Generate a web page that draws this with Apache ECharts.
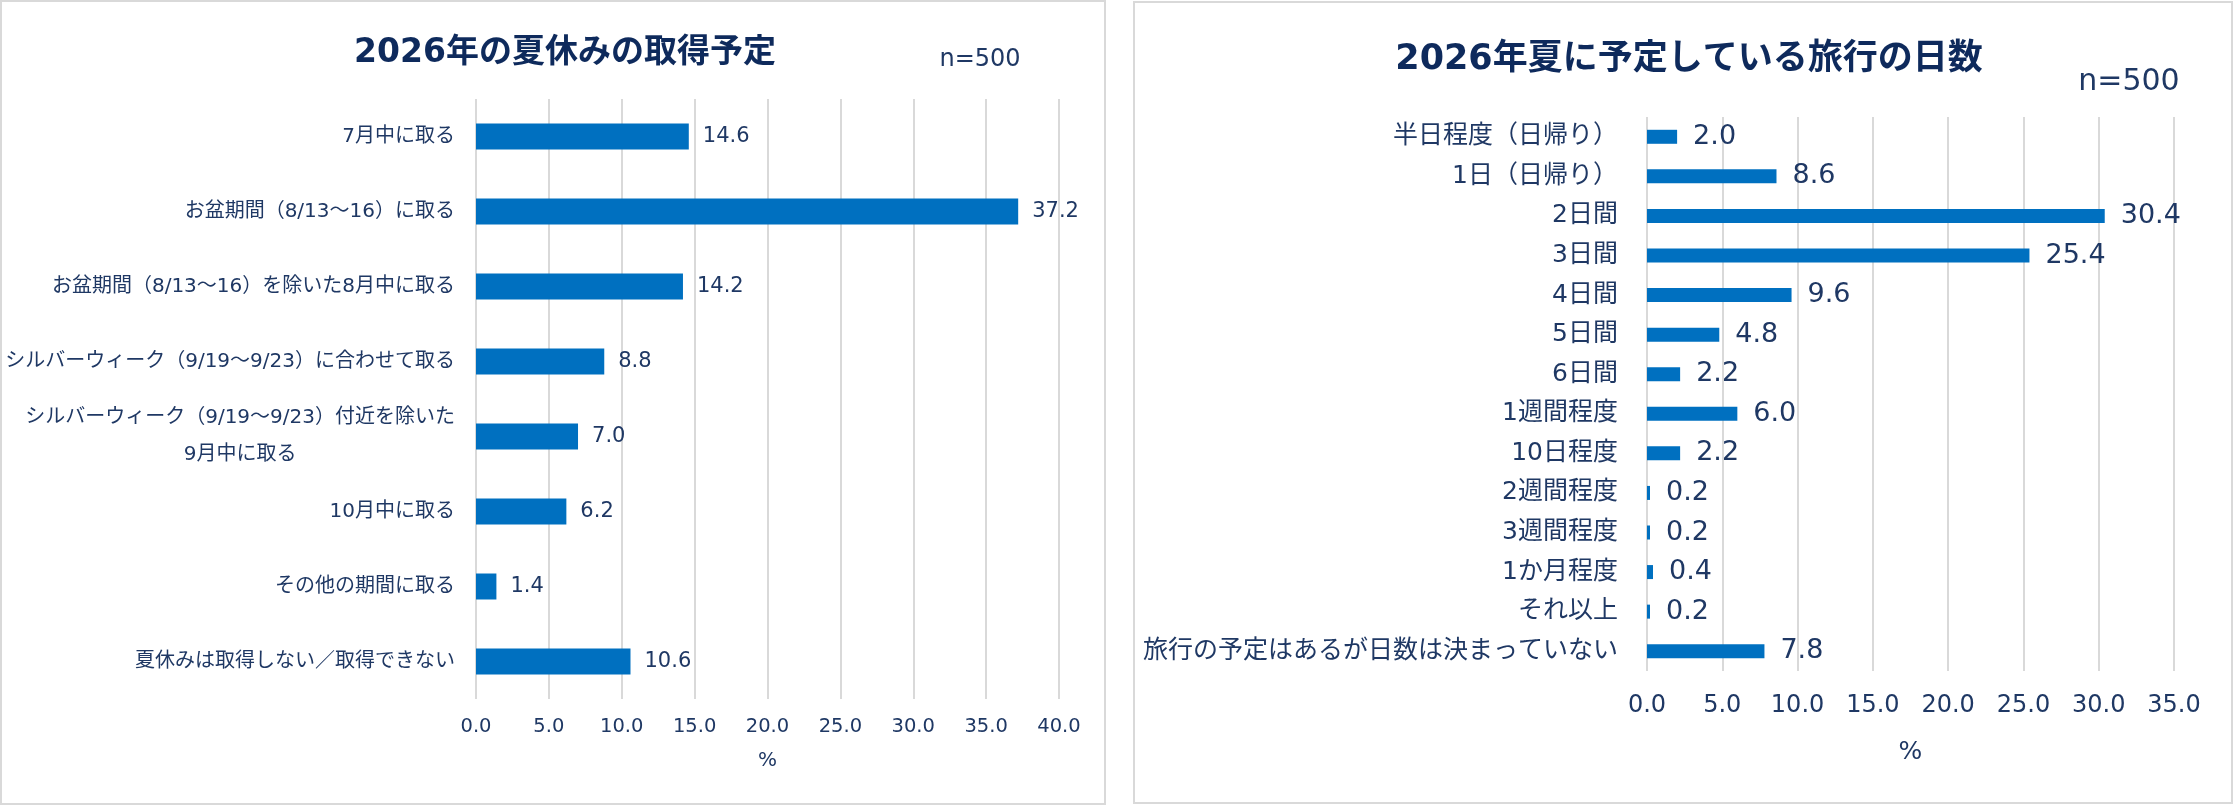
<!DOCTYPE html>
<html lang="ja">
<head>
<meta charset="utf-8">
<title>2026年 夏休み調査</title>
<script src="https://cdn.jsdelivr.net/npm/echarts@6/dist/echarts.min.js"></script>
<style>
  html, body { margin: 0; padding: 0; background: #ffffff; }
  #chart { width: 2235px; height: 806px; }
</style>
</head>
<body>
<div id="chart"></div>
<script>
// 左: 夏休みの取得予定 / 右: 旅行の日数

const holidayCategories = [
  "7月中に取る",
  "お盆期間（8/13〜16）に取る",
  "お盆期間（8/13〜16）を除いた8月中に取る",
  "シルバーウィーク（9/19〜9/23）に合わせて取る",
  "シルバーウィーク（9/19〜9/23）付近を除いた\n9月中に取る",
  "10月中に取る",
  "その他の期間に取る",
  "夏休みは取得しない／取得できない",
];
const holidayValues = [14.6, 37.2, 14.2, 8.8, 7.0, 6.2, 1.4, 10.6];

const tripCategories = [
  "半日程度（日帰り）",
  "1日（日帰り）",
  "2日間",
  "3日間",
  "4日間",
  "5日間",
  "6日間",
  "1週間程度",
  "10日程度",
  "2週間程度",
  "3週間程度",
  "1か月程度",
  "それ以上",
  "旅行の予定はあるが日数は決まっていない",
];
const tripValues = [2.0, 8.6, 30.4, 25.4, 9.6, 4.8, 2.2, 6.0, 2.2, 0.2, 0.2, 0.4, 0.2, 7.8];

const titles = ["2026年の夏休みの取得予定", "2026年夏に予定している旅行の日数"];
const sampleLabel = "n=500";
const unitLabel = "%";

const COLORS = {
  bar: "#0070c0",
  title: "#0e2a5c",
  text: "#1f3864",
  grid: "#d9d9d9",
};
const FONT = "'DejaVu Sans', 'Noto Sans CJK JP', sans-serif";

const fixed1 = (v) => Number(v).toFixed(1);

// 複数行ラベルは各行を中央揃え、ブロック全体は右寄せ
const centeredLines = (text) => text.split("\n").map((s) => `{c|${s}}`).join("\n");

const chart = echarts.init(document.getElementById("chart"), null, { renderer: "canvas" });

chart.setOption({
  backgroundColor: "#ffffff",
  animation: false,
  textStyle: { fontFamily: FONT, color: COLORS.text },
  title: [
    {
      text: titles[0], left: 560, top: 48, textAlign: "center", textVerticalAlign: "middle",
      textStyle: { fontFamily: FONT, fontSize: 33, fontWeight: "bold", color: COLORS.title },
    },
    {
      text: sampleLabel, left: 975, top: 55, textAlign: "center", textVerticalAlign: "middle",
      textStyle: { fontFamily: FONT, fontSize: 24, fontWeight: "normal", color: COLORS.text },
    },
    {
      text: titles[1], left: 1684, top: 55, textAlign: "center", textVerticalAlign: "middle",
      textStyle: { fontFamily: FONT, fontSize: 35, fontWeight: "bold", color: COLORS.title },
    },
    {
      text: sampleLabel, left: 2124, top: 77, textAlign: "center", textVerticalAlign: "middle",
      textStyle: { fontFamily: FONT, fontSize: 30, fontWeight: "normal", color: COLORS.text },
    },
  ],
  graphic: [
    { type: "rect", shape: { x: 1, y: 1, width: 1104, height: 803 }, style: { fill: "none", stroke: COLORS.grid, lineWidth: 2 } },
    { type: "rect", shape: { x: 1134, y: 2, width: 1098, height: 801 }, style: { fill: "none", stroke: COLORS.grid, lineWidth: 2 } },
  ],
  grid: [
    { left: 476, top: 99, width: 583, height: 600, outerBoundsMode: "none" },
    { left: 1647, top: 117, width: 527, height: 554, outerBoundsMode: "none" },
  ],
  xAxis: [
    {
      gridIndex: 0, type: "value", min: 0, max: 40, interval: 5,
      axisLine: { show: false }, axisTick: { show: false },
      splitLine: { show: true, lineStyle: { color: COLORS.grid, width: 2 } },
      axisLabel: { formatter: fixed1, fontSize: 19.5, color: COLORS.text, margin: 18 },
      name: unitLabel, nameLocation: "middle", nameGap: 52,
      nameTextStyle: { fontSize: 20, color: COLORS.text },
    },
    {
      gridIndex: 1, type: "value", min: 0, max: 35, interval: 5,
      axisLine: { show: false }, axisTick: { show: false },
      splitLine: { show: true, lineStyle: { color: COLORS.grid, width: 2 } },
      axisLabel: { formatter: fixed1, fontSize: 24, color: COLORS.text, margin: 23 },
      name: unitLabel, nameLocation: "middle", nameGap: 69,
      nameTextStyle: { fontSize: 25, color: COLORS.text },
    },
  ],
  yAxis: [
    {
      gridIndex: 0, type: "category", inverse: true, data: holidayCategories,
      axisLine: { show: false }, axisTick: { show: false },
      axisLabel: {
        margin: 21, color: COLORS.text, interval: 0,
        formatter: centeredLines,
        rich: { c: { fontFamily: FONT, fontSize: 20, lineHeight: 37, color: COLORS.text, align: "center" } },
      },
    },
    {
      gridIndex: 1, type: "category", inverse: true, data: tripCategories,
      axisLine: { show: false }, axisTick: { show: false },
      axisLabel: { margin: 29, fontSize: 25, color: COLORS.text, interval: 0 },
    },
  ],
  series: [
    {
      type: "bar", xAxisIndex: 0, yAxisIndex: 0, data: holidayValues, barWidth: 26,
      itemStyle: { color: COLORS.bar },
      label: { show: true, position: "right", distance: 14, formatter: (p) => fixed1(p.value), fontSize: 21, color: COLORS.text },
    },
    {
      type: "bar", xAxisIndex: 1, yAxisIndex: 1, data: tripValues, barWidth: 14,
      itemStyle: { color: COLORS.bar },
      label: { show: true, position: "right", distance: 16, formatter: (p) => fixed1(p.value), fontSize: 27, color: COLORS.text },
    },
  ],
});
</script>
</body>
</html>
